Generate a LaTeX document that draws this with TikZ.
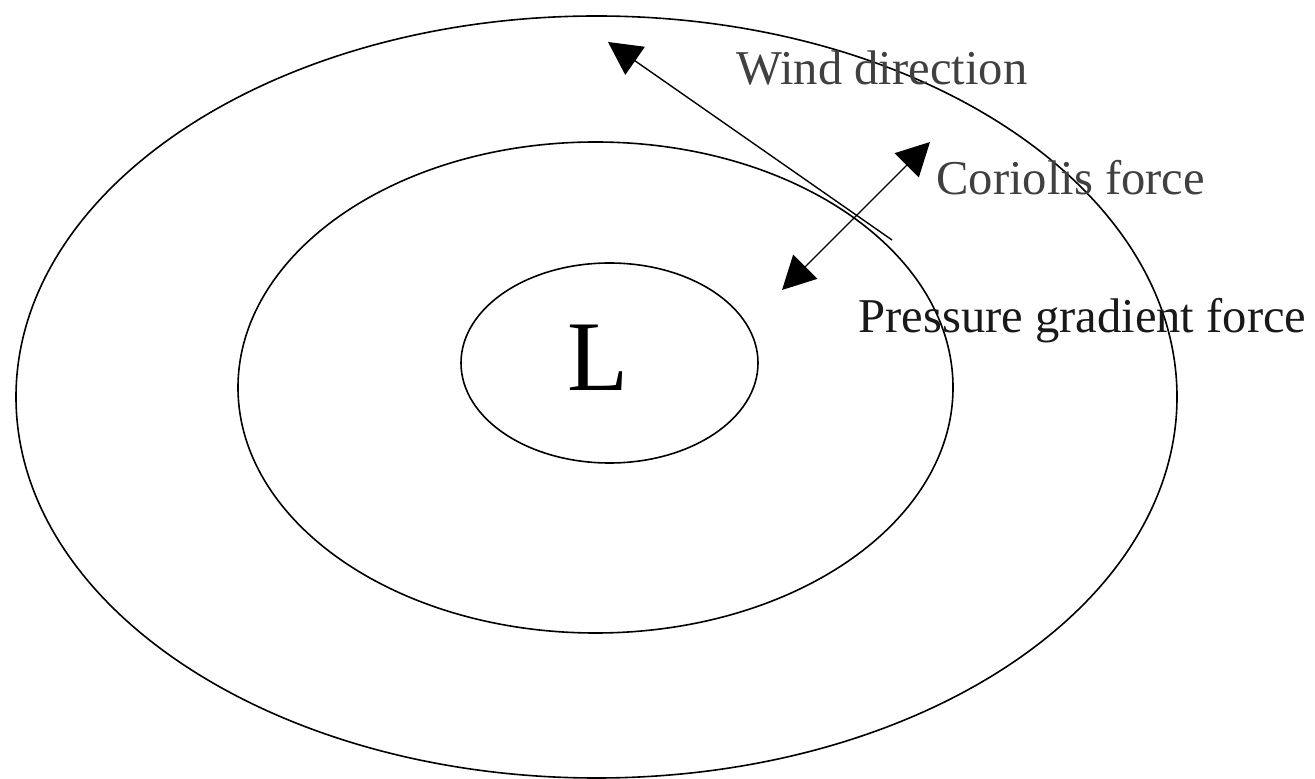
\documentclass[tikz,border=0pt]{standalone}
\usepackage{fontspec}
\setmainfont{Liberation Serif}
\usetikzlibrary{shapes.geometric,arrows.meta}
\begin{document}
\begin{tikzpicture}[x=0.5pt,y=-0.5pt,
  isobar/.style={draw=black,line width=0.8pt,ellipse,inner sep=0pt,outer sep=0pt},
  forcearrow/.style={line width=0.7pt,-{Triangle[length=16.5pt,width=17pt]}},
  lbl/.style={inner sep=0pt,anchor=base west,font=\fontsize{24.3}{27}\selectfont}]
\useasboundingbox[fill=white] (0,0) rectangle (1315,779);
% isobars
\node[isobar,minimum width=580.5pt,minimum height=381pt] (outer) at (596.5,397) {};
\node[isobar,minimum width=357.5pt,minimum height=245.5pt] (middle) at (595.5,387.5) {};
\node[isobar,minimum width=148.5pt,minimum height=100pt] (inner) at (609.5,363) {};
\node[inner sep=0pt,font=\fontsize{50}{50}\selectfont] (low) at (598,358) {L};
% arrow end points
\coordinate (windstart) at (892,240);
\coordinate (windtip) at (608,42);
\coordinate (corin) at (782,290);
\coordinate (corout) at (930,142);
\draw[forcearrow] (windstart) -- (windtip);
\draw[forcearrow,{Triangle[length=16.5pt,width=17pt]}-{Triangle[length=16.5pt,width=17pt]}] (corin) -- (corout);
% labels
\node[lbl,text=black!75] (wind) at (736,85) {Wind direction};
\node[lbl,text=black!75] (coriolis) at (936,195) {Coriolis force};
\node[lbl,text=black!90] (pgf) at (858,333) {Pressure gradient force};
\end{tikzpicture}
\end{document}
